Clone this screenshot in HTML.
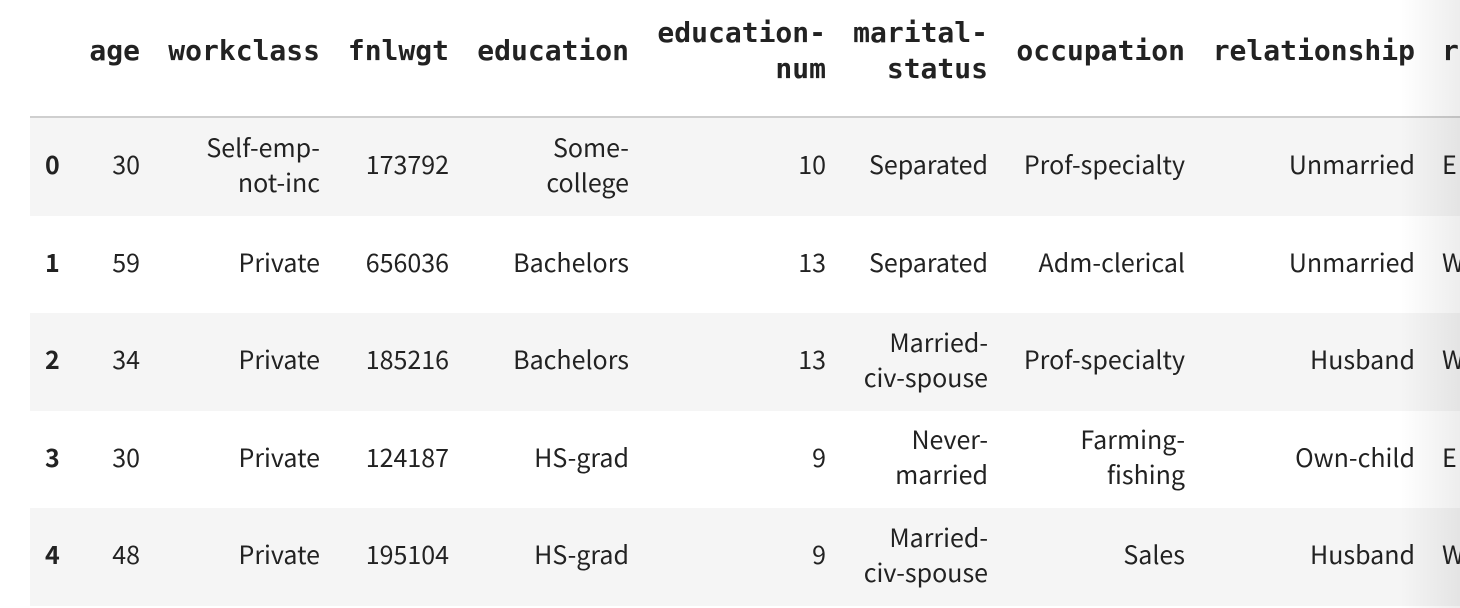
<!DOCTYPE html>
<html><head><meta charset="utf-8">
<style>
html,body{margin:0;padding:0;background:#fff;width:1460px;height:608px;overflow:hidden;position:relative}
.h{position:absolute;font-family:"DejaVu Sans Mono","Liberation Mono",monospace;font-weight:bold;font-size:28px;color:#222;text-align:right;line-height:36px;white-space:nowrap}
.c{position:absolute;font-family:"Noto Sans CJK KR","Liberation Sans",sans-serif;font-size:25px;color:#222;text-align:right;line-height:35px;white-space:nowrap}
.row{position:absolute;left:30px;width:1430px}
.idx{font-weight:bold;text-align:left}
.shade{position:absolute;left:1400px;top:0;width:60px;height:608px;background:linear-gradient(to right,rgba(0,0,0,0),rgba(0,0,0,0.07))}
</style></head>
<body>
<div style="position:absolute;left:30px;top:116px;width:1430px;height:2px;background:#cfcfcf"></div>
<div id="rows"></div>
<div id="cells"></div>
<div class="shade"></div>
<script>
const headers=[["age"],["workclass"],["fnlwgt"],["education"],["education-","num"],["marital-","status"],["occupation"],["relationship"],["r"]];
const rights=[140,320,449,629,826,988,1185,1415,1460];
const indexLabels=["0","1","2","3","4"];
const rowData=[
 [["30"],["Self-emp-","not-inc"],["173792"],["Some-","college"],["10"],["Separated"],["Prof-specialty"],["Unmarried"],["E"]],
 [["59"],["Private"],["656036"],["Bachelors"],["13"],["Separated"],["Adm-clerical"],["Unmarried"],["W"]],
 [["34"],["Private"],["185216"],["Bachelors"],["13"],["Married-","civ-spouse"],["Prof-specialty"],["Husband"],["W"]],
 [["30"],["Private"],["124187"],["HS-grad"],["9"],["Never-","married"],["Farming-","fishing"],["Own-child"],["E"]],
 [["48"],["Private"],["195104"],["HS-grad"],["9"],["Married-","civ-spouse"],["Sales"],["Husband"],["W"]]
];
const rowTop=118,rowH=97.5;
const R=document.getElementById('rows'),C=document.getElementById('cells');
headers.forEach((h,i)=>{
 const d=document.createElement('div');d.className='h';
 
 
 d.innerHTML=h.join('<br>');
 const lines=h.length;d.style.top=(51-lines*18)+'px';
 if(i===8){d.style.left='1442px';d.style.textAlign='left';}else{d.style.right=(1460-rights[i])+'px';}
 C.appendChild(d);
});
rowData.forEach((row,r)=>{
 const top=rowTop+r*rowH;
 const bg=document.createElement('div');bg.className='row';
 
 
 bg.style.top=top+'px';bg.style.height=rowH+'px';bg.style.background=r%2===0?'#f5f5f5':'#fff';
 R.appendChild(bg);
 const cy=top+rowH/2-2;
 const ix=document.createElement('div');ix.className='c idx';
 
 
 ix.textContent=indexLabels[r];ix.style.left='45px';ix.style.top=(cy-17.5)+'px';
 C.appendChild(ix);
 row.forEach((v,i)=>{
  const d=document.createElement('div');d.className='c';
  
  
  d.innerHTML=v.join('<br>');
  d.style.top=(cy-v.length*17.5)+'px';
  if(i===8){d.style.left='1442px';d.style.textAlign='left';}else{d.style.right=(1460-rights[i])+'px';}
  C.appendChild(d);
 });
});
</script>
</body></html>
